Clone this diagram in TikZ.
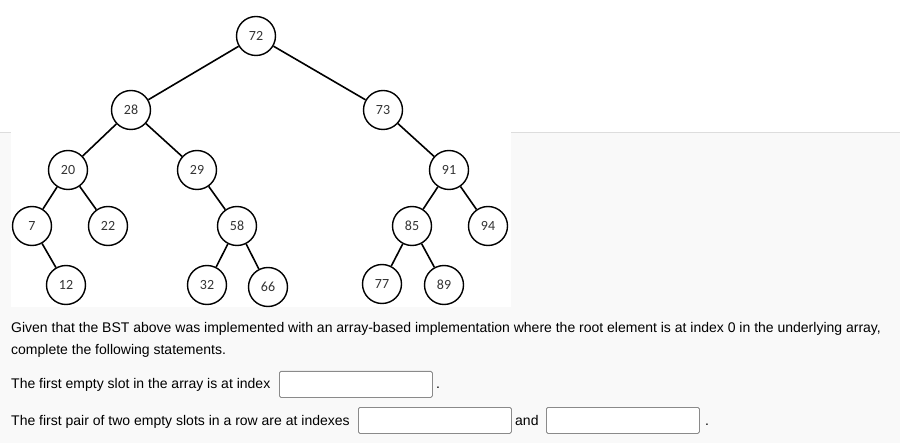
\documentclass[tikz,border=0pt]{standalone}
\usepackage{fontspec}
\setmainfont{Liberation Sans}
\newfontfamily\treefont[Numbers=Lining]{Carlito}
\definecolor{pagegray}{HTML}{F9F9F9}
\definecolor{ruleg}{HTML}{DDDDDD}
\definecolor{boxg}{HTML}{8A8A8A}
\definecolor{keyg}{HTML}{333333}

\begin{document}
\begin{tikzpicture}[x=1bp,y=-1bp]
	\tikzset{
		bstnode/.style={shape=circle,draw=black,line width=1.4bp,fill=white,
			minimum size=39bp,inner sep=0pt,text=keyg,font=\treefont\fontsize{14bp}{14bp}\selectfont},
		bstedge/.style={line width=1.6bp,black},
		qtext/.style={anchor=base west,inner sep=0pt,font=\fontsize{14bp}{16bp}\selectfont},
		ansbox/.style={draw=boxg,fill=white,rounded corners=1.5bp,line width=0.8bp,
			minimum width=153bp,minimum height=26bp,anchor=north west,inner sep=0pt}
	}
	\useasboundingbox (0,0) rectangle (900,443);
	\fill[white] (0,0) rectangle (900,133);
	\fill[pagegray] (0,133) rectangle (900,443);
	\draw[ruleg,line width=1bp] (0,133) -- (900,133);
	\fill[white] (11,0) rectangle (511,307);

	\node [bstnode] (n72) at (256,36) {72};
	\node [bstnode] (n28) at (131,110) {28};
	\node [bstnode] (n73) at (383,110) {73};
	\node [bstnode] (n20) at (68,170) {20};
	\node [bstnode] (n29) at (197,170) {29};
	\node [bstnode] (n91) at (449,170) {91};
	\node [bstnode] (n7) at (32,226) {7};
	\node [bstnode] (n22) at (108,226) {22};
	\node [bstnode] (n58) at (237,226) {58};
	\node [bstnode] (n85) at (412,226) {85};
	\node [bstnode] (n94) at (488,226) {94};
	\node [bstnode] (n12) at (66,285) {12};
	\node [bstnode] (n32) at (207,285) {32};
	\node [bstnode] (n66) at (268,287) {66};
	\node [bstnode] (n77) at (382,284) {77};
	\node [bstnode] (n89) at (444,285) {89};

	\draw [bstedge] (n72) -- (n28);
	\draw [bstedge] (n72) -- (n73);
	\draw [bstedge] (n28) -- (n20);
	\draw [bstedge] (n28) -- (n29);
	\draw [bstedge] (n73) -- (n91);
	\draw [bstedge] (n20) -- (n7);
	\draw [bstedge] (n20) -- (n22);
	\draw [bstedge] (n29) -- (n58);
	\draw [bstedge] (n91) -- (n85);
	\draw [bstedge] (n91) -- (n94);
	\draw [bstedge] (n7) -- (n12);
	\draw [bstedge] (n58) -- (n32);
	\draw [bstedge] (n58) -- (n66);
	\draw [bstedge] (n85) -- (n77);
	\draw [bstedge] (n85) -- (n89);

	% question text and answer boxes
	\node [qtext] (given) at (11,333) {Given that the BST above was implemented with an array-based implementation where the root element is at index 0 in the underlying array,};
	\node [qtext] (complete) at (11,355) {complete the following statements.};
	\node [qtext] (first) at (11,388) {The first empty slot in the array is at index};
	\node [ansbox] (box1) at (279,371) {};
	\node [qtext] (dot1) at (436,388) {.};
	\node [qtext] (pair) at (11,425) {The first pair of two empty slots in a row are at indexes};
	\node [ansbox] (box2) at (358,407) {};
	\node [qtext] (and) at (515,425) {and};
	\node [ansbox] (box3) at (546,407) {};
	\node [qtext] (dot2) at (705,425) {.};
\end{tikzpicture}
\end{document}
